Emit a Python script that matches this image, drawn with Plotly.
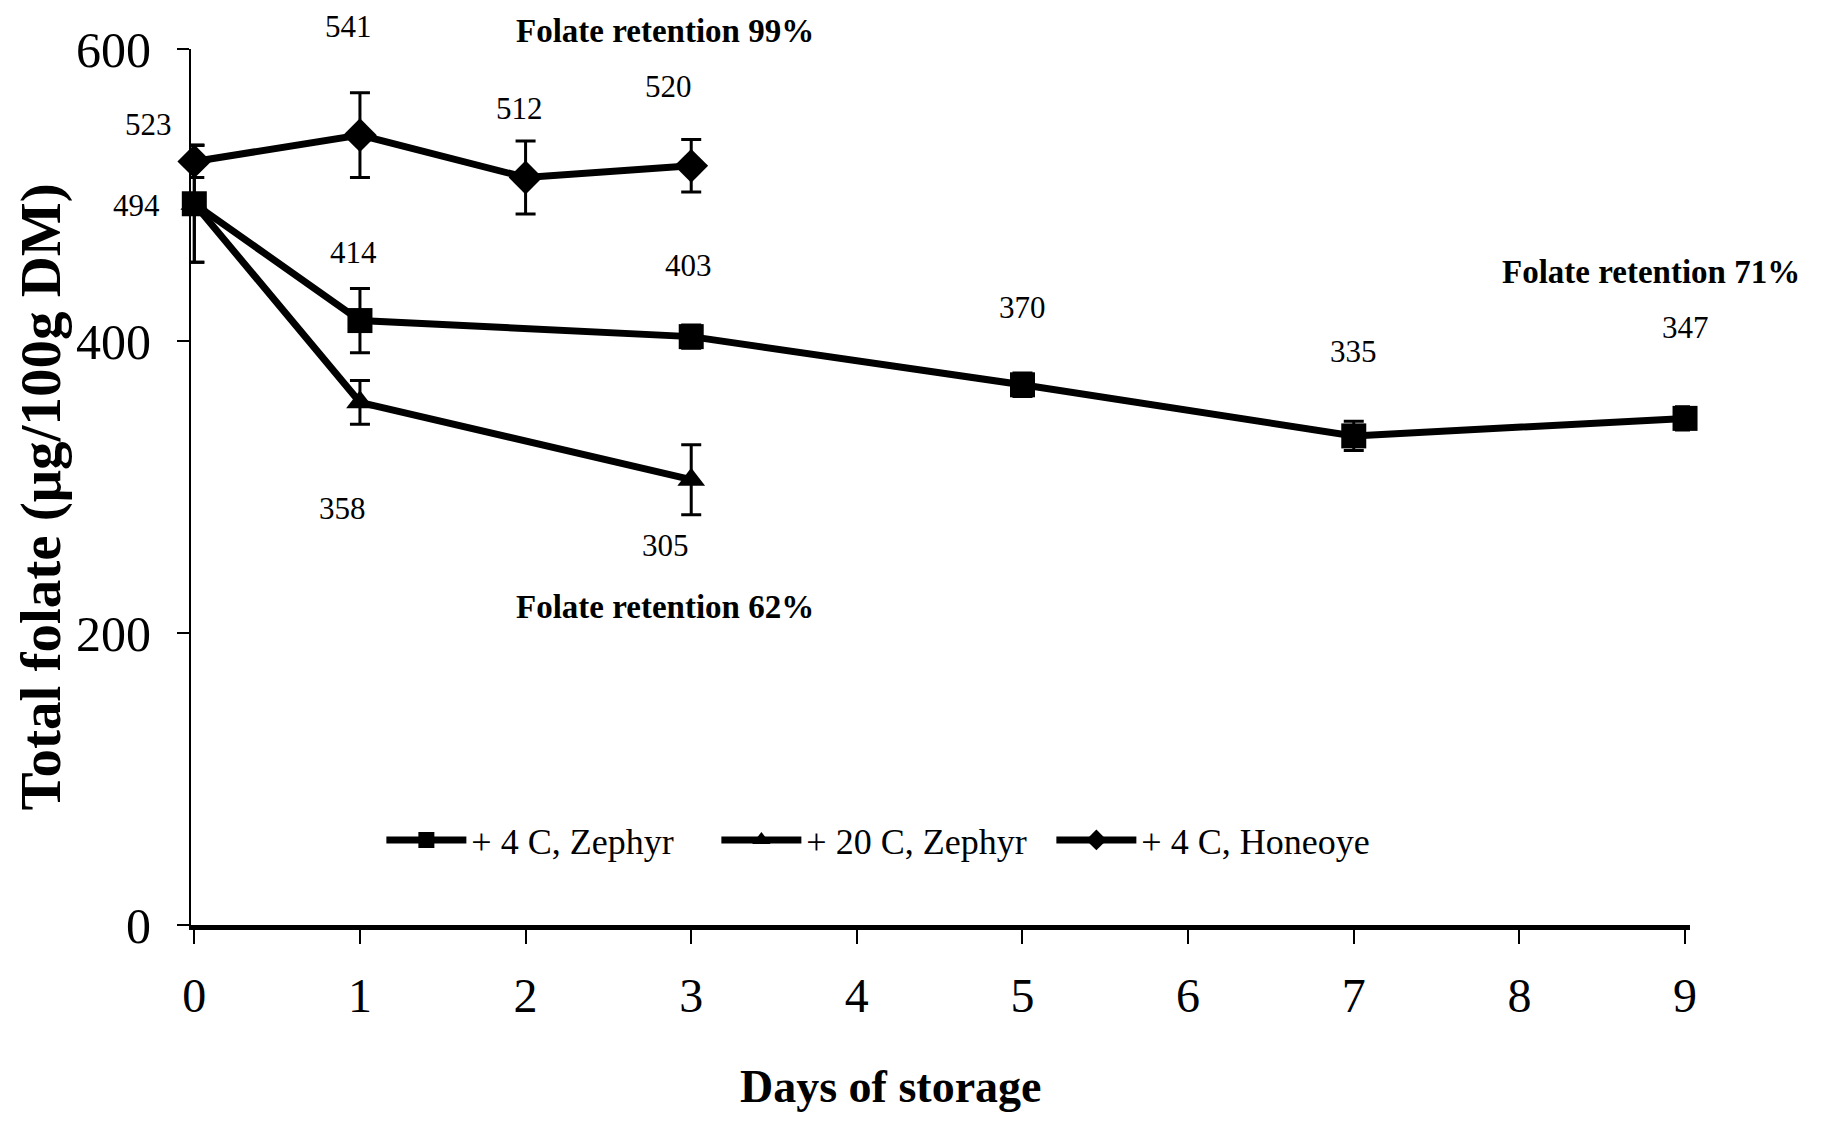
import plotly.graph_objects as go

# Total folate during storage (µg/100 g DM)
zephyr4_days = [0, 1, 3, 5, 7, 9]
zephyr4_vals = [494, 414, 403, 370, 335, 347]
zephyr4_err = [40, 22, 8, 8, 10, 8]

zephyr20_days = [0, 1, 3]
zephyr20_vals = [494, 358, 305]
zephyr20_err = [40, 15, 24]

honeoye4_days = [0, 1, 2, 3]
honeoye4_vals = [523, 541, 512, 520]
honeoye4_err = [11, 29, 25, 18]

series_names = ["+ 4 C, Zephyr", "+ 20 C, Zephyr", "+ 4 C, Honeoye"]
retention_notes = ["Folate retention 99%", "Folate retention 62%", "Folate retention 71%"]

x_ticks = list(range(0, 10))
y_ticks = [0, 200, 400, 600]

SERIF = "Liberation Serif"
INK = "black"

fig = go.Figure()


def add_series(days, vals, err, name, symbol, size):
    fig.add_trace(go.Scatter(
        x=days, y=vals, name=name, mode="lines+markers",
        line=dict(color=INK, width=7),
        marker=dict(symbol=symbol, size=size, color=INK),
        error_y=dict(type="data", array=err, visible=True,
                     color=INK, thickness=3, width=10),
        cliponaxis=False,
    ))


add_series(zephyr4_days, zephyr4_vals, zephyr4_err, series_names[0], "square", 25)
add_series(zephyr20_days, zephyr20_vals, zephyr20_err, series_names[1], "triangle-up", 24)
add_series(honeoye4_days, honeoye4_vals, honeoye4_err, series_names[2], "diamond", 26)

# value labels: (day, value, xshift, yshift) offsets in px
label_offsets = [
    (honeoye4_days[1], honeoye4_vals[1], -11, 109),
    (honeoye4_days[0], honeoye4_vals[0], -46, 37),
    (zephyr4_days[0], zephyr4_vals[0], -58, -2),
    (honeoye4_days[2], honeoye4_vals[2], -6, 69),
    (honeoye4_days[3], honeoye4_vals[3], -23, 79),
    (zephyr4_days[1], zephyr4_vals[1], -6, 68),
    (zephyr4_days[2], zephyr4_vals[2], -3, 71),
    (zephyr4_days[3], zephyr4_vals[3], 0, 77),
    (zephyr4_days[4], zephyr4_vals[4], 0, 84),
    (zephyr4_days[5], zephyr4_vals[5], 0, 91),
    (zephyr20_days[1], zephyr20_vals[1], -17, -106),
    (zephyr20_days[2], zephyr20_vals[2], -26, -66),
]
for d, v, dx, dy in label_offsets:
    fig.add_annotation(x=d, y=v, xref="x", yref="y", text=str(v),
                       showarrow=False, xshift=dx, yshift=dy,
                       xanchor="center", yanchor="middle",
                       font=dict(family=SERIF, size=31, color=INK))

# retention notes
note_pos = [(0.316, 1.0205), (0.316, 0.363), (0.974, 0.745)]
for txt, (px, py) in zip(retention_notes, note_pos):
    fig.add_annotation(x=px, y=py, xref="paper", yref="paper",
                       text=f"<b>{txt}</b>", showarrow=False,
                       xanchor="center", yanchor="middle",
                       font=dict(family=SERIF, size=33, color=INK))

# axis titles
fig.add_annotation(x=0.467, y=-0.184, xref="paper", yref="paper",
                   text="<b>Days of storage</b>", showarrow=False,
                   xanchor="center", yanchor="middle",
                   font=dict(family=SERIF, size=46, color=INK))
fig.add_annotation(x=-0.0998, y=0.4886, xref="paper", yref="paper",
                   text="<b>Total folate (μg/100g DM)</b>", showarrow=False,
                   textangle=-90, xanchor="center", yanchor="middle",
                   font=dict(family=SERIF, size=57, color=INK))

fig.update_xaxes(
    range=[-0.02, 9.03], tickvals=x_ticks, ticktext=[str(t) for t in x_ticks],
    showgrid=False, zeroline=False, showline=True, linecolor=INK, linewidth=5,
    ticks="outside", ticklen=14, tickwidth=2, tickcolor=INK,
    ticklabelstandoff=10,
    tickfont=dict(family=SERIF, size=48, color=INK),
)
fig.update_yaxes(
    range=[0, 600], tickvals=y_ticks, ticktext=[str(t) for t in y_ticks],
    showgrid=False, zeroline=False, showline=True, linecolor=INK, linewidth=2,
    ticks="outside", ticklen=12, tickwidth=2, tickcolor=INK,
    ticklabelstandoff=16,
    tickfont=dict(family=SERIF, size=50, color=INK),
)

fig.update_layout(
    width=1822, height=1123,
    margin=dict(l=191, r=132, t=49, b=198),
    paper_bgcolor="white", plot_bgcolor="white",
    showlegend=True,
    legend=dict(
        orientation="h", x=0.127, y=0.097, xanchor="left", yanchor="middle",
        font=dict(family=SERIF, size=36, color=INK),
        bgcolor="rgba(0,0,0,0)", itemwidth=80,
        entrywidth=240, entrywidthmode="pixels",
    ),
)

fig.write_html("out.html")
